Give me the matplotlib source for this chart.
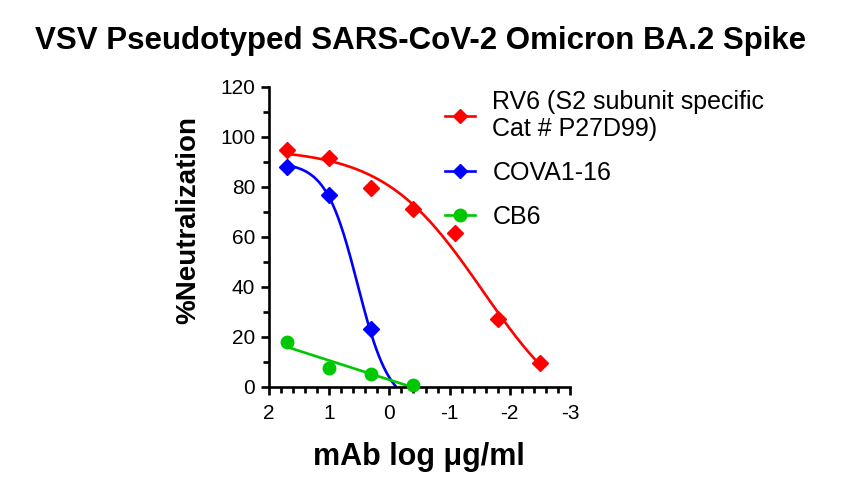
import numpy as np
import matplotlib
matplotlib.use("Agg")
import matplotlib.pyplot as plt
from matplotlib.ticker import MultipleLocator
from matplotlib.lines import Line2D

plt.rcParams['font.family'] = ['Liberation Sans', 'DejaVu Sans']

# ---- data (log10 concentration, % neutralization) ----
log_conc = [1.699, 1.0, 0.301, -0.398, -1.097, -1.796, -2.495]
rv6_vals = [94.8, 91.6, 79.6, 71.2, 61.6, 27.2, 9.6]
cova_x = [1.699, 1.0, 0.301]
cova_vals = [88.0, 76.8, 23.2]
cb6_x = [1.699, 1.0, 0.301, -0.398]
cb6_vals = [18.0, 7.6, 5.2, 0.8]

# fitted curve parameters (top, bottom, logEC50, hill)
rv6_fit = [95.4, -18.4, -1.55, 0.527]
cova_fit = [89.8, -7.8, 0.528, 1.65]

labels = ["RV6 (S2 subunit specific\nCat # P27D99)", "COVA1-16", "CB6"]
colors = ["#FF0000", "#0000FF", "#00C800"]
x_ticks = [2, 1, 0, -1, -2, -3]
y_ticks = [0, 20, 40, 60, 80, 100, 120]


def four_pl(p, x):
    top, bottom, c, h = p
    return bottom + (top - bottom) / (1 + 10 ** ((c - x) * h))


W, H = 841, 496
fig = plt.figure(figsize=(W / 100, H / 100), dpi=100)
ax = fig.add_axes([269 / W, 1 - 387 / H, (570 - 269) / W, 300 / H])

lw = 1.9
# RV6
xr = np.linspace(min(log_conc), max(log_conc), 300)
ax.plot(xr, four_pl(rv6_fit, xr), color=colors[0], lw=lw, zorder=2)
ax.plot(log_conc, rv6_vals, 'D', color=colors[0], ms=8, zorder=3, clip_on=False)
# COVA1-16
xc = np.linspace(-0.5, max(cova_x), 300)
ax.plot(xc, four_pl(cova_fit, xc), color=colors[1], lw=lw, zorder=2)
ax.plot(cova_x, cova_vals, 'D', color=colors[1], ms=8, zorder=3, clip_on=False)
# CB6 (linear fit)
k, b = np.polyfit(cb6_x, cb6_vals, 1)
xg = np.linspace(min(cb6_x), max(cb6_x), 50)
ax.plot(xg, k * xg + b, color=colors[2], lw=lw, zorder=2)
ax.plot(cb6_x, cb6_vals, 'o', color=colors[2], ms=9, zorder=3, clip_on=False)

ax.set_xlim(2, -3)
ax.set_ylim(0, 120)
ax.set_xticks(x_ticks)
ax.set_xticklabels([str(t) if t >= 0 else "-" + str(-t) for t in x_ticks])
ax.set_yticks(y_ticks)
ax.xaxis.set_minor_locator(MultipleLocator(0.2))
ax.yaxis.set_minor_locator(MultipleLocator(10))

for s in ['top', 'right']:
    ax.spines[s].set_visible(False)
for s in ['left', 'bottom']:
    ax.spines[s].set_linewidth(1.9)
ax.tick_params(which='major', length=6, width=1.9, labelsize=15, color='black')
ax.tick_params(axis='x', which='major', pad=6)
ax.tick_params(axis='y', which='major', pad=4)
ax.tick_params(which='minor', length=4, width=1.9)

fig.text(188 / W, 1 - 220 / H, "%Neutralization", rotation=90, ha='center', va='center',
         fontsize=20, fontweight='bold')
fig.text(419 / W, 1 - 465 / H, "mAb log μg/ml", ha='center', va='baseline',
         fontsize=22, fontweight='bold')
fig.text(421 / W, 1 - 49 / H, "VSV Pseudotyped SARS-CoV-2 Omicron BA.2 Spike", ha='center',
         va='baseline', fontsize=22.5, fontweight='bold')

handles = [
    Line2D([], [], color=colors[0], lw=lw, marker='D', ms=7),
    Line2D([], [], color=colors[1], lw=lw, marker='D', ms=7),
    Line2D([], [], color=colors[2], lw=lw, marker='o', ms=9),
]
leg = fig.legend(handles, labels, loc='upper left', bbox_to_anchor=(445 / W, 1 - 90 / H),
                 frameon=False, fontsize=18, handlelength=1.2, handletextpad=0.7,
                 labelspacing=0.8, borderaxespad=0, borderpad=0)
for t in leg.get_texts():
    t.set_linespacing(1.15)

fig.savefig("out.png", dpi=100)
